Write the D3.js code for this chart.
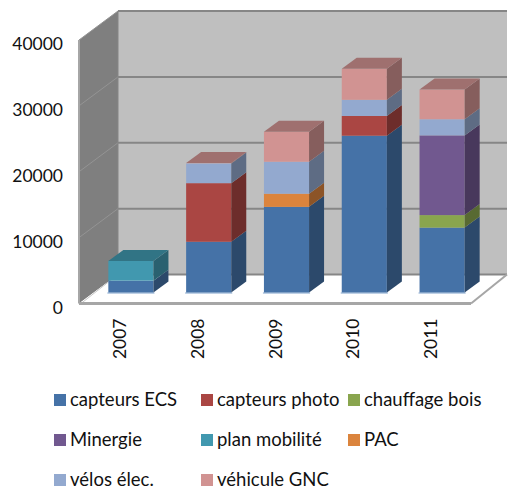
<!DOCTYPE html>
<html>
<head>
<meta charset="utf-8">
<script src="https://cdn.jsdelivr.net/npm/d3@7"></script>
<style>
  body { margin: 0; background: #fff; }
  text { font-family: Lato, "Open Sans", sans-serif; fill: #111; }
</style>
</head>
<body>
<div id="chart"></div>
<script>
// data
var years = ["2007", "2008", "2009", "2010", "2011"];
var yTicks = [0, 10000, 20000, 30000, 40000];
var seriesNames = ["capteurs ECS", "capteurs photo", "chauffage bois", "Minergie", "plan mobilité", "PAC", "vélos élec.", "véhicule GNC"];
var seriesColors = ["#4572a7", "#aa4643", "#89a54e", "#71588f", "#4198af", "#db843d", "#93a9cf", "#d19392"];
var capteursEcs = [1800, 7700, 13000, 23800, 9850];
var capteursPhoto = [0, 8900, 0, 3000, 0];
var chauffageBois = [0, 0, 0, 0, 1900];
var minergie = [0, 0, 0, 0, 12100];
var planMobilite = [3000, 0, 0, 0, 0];
var pac = [0, 0, 2000, 0, 0];
var velosElec = [0, 3000, 4850, 2450, 2450];
var vehiculeGnc = [0, 40, 4550, 4700, 4500];
var seriesValues = [capteursEcs, capteursPhoto, chauffageBois, minergie, planMobilite, pac, velosElec, vehiculeGnc];

var width = 508, height = 487;
var wallDx = 39, wallDy = -29;   // depth of the chart box
var barDx = 15, barDy = -11;     // depth of a bar
var barShift = 11, barLift = 11; // bars stand in the middle of the floor

var svg = d3.select("#chart").append("svg")
  .attr("width", width)
  .attr("height", height)
  .style("display", "block");

var x = d3.scaleBand().domain(years).range([81, 470]);
var xBar = d3.scaleBand().domain(years).range([81 + barShift, 470 + barShift])
  .paddingInner(0.42).paddingOuter(0.21);
var y = d3.scaleLinear().domain([0, 40000]).range([303.5, 40]);

function pts(list) { return list.map(function(p) { return p.join(","); }).join(" "); }

var x0 = x.range()[0] - 2, x1 = x.range()[1] + 1;
var backLeft = x0 + wallDx, backRight = 507;

// back wall
svg.append("rect")
  .attr("x", backLeft).attr("y", y(40000) + wallDy)
  .attr("width", backRight - backLeft).attr("height", y(0) - y(40000))
  .attr("fill", "#bfbfbf");

// side wall
svg.append("polygon")
  .attr("points", pts([[x0, y(40000)], [backLeft, y(40000) + wallDy], [backLeft, y(0) + wallDy], [x0, y(0)]]))
  .attr("fill", "#7f7f7f");

// floor
svg.append("polygon")
  .attr("points", pts([[x0, y(0)], [backLeft, y(0) + wallDy], [backRight, y(0) + wallDy], [x1, y(0)]]))
  .attr("fill", "#fff");

// gridlines, back wall and side wall
svg.selectAll("line.grid").data(yTicks).enter().append("line")
  .attr("class", "grid")
  .attr("x1", backLeft).attr("x2", backRight)
  .attr("y1", function(d) { return y(d) + wallDy; })
  .attr("y2", function(d) { return y(d) + wallDy; })
  .attr("stroke", "#868686").attr("stroke-width", 2);

svg.selectAll("line.sidegrid").data(yTicks.slice(1)).enter().append("line")
  .attr("class", "sidegrid")
  .attr("x1", x0).attr("x2", backLeft)
  .attr("y1", function(d) { return y(d); })
  .attr("y2", function(d) { return y(d) + wallDy; })
  .attr("stroke", "#949494").attr("stroke-width", 1);

svg.append("line")
  .attr("x1", backLeft).attr("x2", backLeft)
  .attr("y1", y(40000) + wallDy).attr("y2", y(0) + wallDy)
  .attr("stroke", "#868686").attr("stroke-width", 1);

svg.append("line")
  .attr("x1", x0).attr("x2", x0)
  .attr("y1", y(40000)).attr("y2", y(0))
  .attr("stroke", "#a6a6a6").attr("stroke-width", 2);

svg.append("line")
  .attr("x1", x0 + 2).attr("x2", backLeft)
  .attr("y1", y(0)).attr("y2", y(0) + wallDy)
  .attr("stroke", "#c8c8c8").attr("stroke-width", 1);

svg.append("line")
  .attr("x1", x1).attr("x2", backRight)
  .attr("y1", y(0)).attr("y2", y(0) + wallDy)
  .attr("stroke", "#a6a6a6").attr("stroke-width", 2);

svg.append("line")
  .attr("x1", x0).attr("x2", x1)
  .attr("y1", y(0)).attr("y2", y(0))
  .attr("stroke", "#a6a6a6").attr("stroke-width", 3);

// stacked bars
var stackRows = years.map(function(year, i) {
  var row = { year: year };
  seriesNames.forEach(function(name, s) { row[name] = seriesValues[s][i]; });
  return row;
});
var stacked = d3.stack().keys(seriesNames)(stackRows);

// pale fringe under each bar
svg.selectAll("line.fringe").data(years).enter().append("line")
  .attr("class", "fringe")
  .attr("x1", function(d) { return xBar(d) - 1; })
  .attr("x2", function(d) { return xBar(d) + xBar.bandwidth() + 1; })
  .attr("y1", y(0) - barLift + 0.5)
  .attr("y2", y(0) - barLift + 0.5)
  .attr("stroke", "#a9c0dc").attr("stroke-width", 1.5);

var layers = svg.selectAll("g.layer").data(stacked).enter().append("g")
  .attr("class", "layer");

function mult(hex, k) {
  var c = d3.rgb(hex);
  return d3.rgb(c.r * k, c.g * k, c.b * k).formatHex();
}

layers.each(function(layer, s) {
  var g = d3.select(this);
  var col = seriesColors[s];
  var segs = layer.filter(function(d) { return d[1] > d[0]; });

  // front
  g.selectAll("rect").data(segs).enter().append("rect")
    .attr("x", function(d) { return xBar(d.data.year); })
    .attr("y", function(d) { return y(d[1]) - barLift; })
    .attr("width", xBar.bandwidth())
    .attr("height", function(d) { return y(d[0]) - y(d[1]); })
    .attr("fill", col);

  // right side
  g.selectAll("polygon.side").data(segs).enter().append("polygon")
    .attr("class", "side")
    .attr("points", function(d) {
      var xr = xBar(d.data.year) + xBar.bandwidth();
      var t = y(d[1]) - barLift, b = y(d[0]) - barLift;
      return pts([[xr, t], [xr + barDx, t + barDy], [xr + barDx, b + barDy], [xr, b]]);
    })
    .attr("fill", mult(col, 0.64));

  // top, only the highest segment of each bar shows it
  g.selectAll("polygon.top").data(segs.filter(function(d) {
      return Math.abs(d[1] - d3.sum(seriesValues, function(v) { return v[years.indexOf(d.data.year)]; })) < 1;
    })).enter().append("polygon")
    .attr("class", "top")
    .attr("points", function(d) {
      var xl = xBar(d.data.year), xr = xl + xBar.bandwidth();
      var t = y(d[1]) - barLift;
      return pts([[xl, t], [xl + barDx, t + barDy], [xr + barDx, t + barDy], [xr, t]]);
    })
    .attr("fill", mult(col, 0.76));
});

// axes
var yAxis = svg.append("g")
  .attr("transform", "translate(" + x0 + ",0)")
  .call(d3.axisLeft(y).tickValues(yTicks).tickFormat(d3.format("d")).tickSize(0).tickPadding(16));
yAxis.select(".domain").remove();
yAxis.selectAll("text")
  .style("font-size", "17.5px")
  .attr("dy", "0.57em");

var xAxis = svg.append("g")
  .attr("transform", "translate(0," + y(0) + ")")
  .call(d3.axisBottom(x).tickSize(0));
xAxis.select(".domain").remove();
xAxis.selectAll("text")
  .style("font-size", "17.5px")
  .style("text-anchor", "end")
  .attr("dy", null)
  .attr("y", null)
  .attr("transform", "translate(6,15)rotate(-90)");

// legend
var legendCols = d3.scalePoint().domain([0, 1, 2]).range([54, 348]);
var legendRows = d3.scalePoint().domain([0, 1, 2]).range([400, 480]);

var legend = svg.selectAll("g.legend").data(seriesNames).enter().append("g")
  .attr("class", "legend")
  .attr("transform", function(d, i) {
    return "translate(" + legendCols(i % 3) + "," + legendRows(Math.floor(i / 3)) + ")";
  });
legend.append("rect")
  .attr("y", -6).attr("width", 12).attr("height", 12)
  .attr("fill", function(d, i) { return seriesColors[i]; });
legend.append("text")
  .attr("x", 16).attr("dy", "0.33em")
  .style("font-size", "18.5px")
  .text(function(d) { return d; });
</script>
</body>
</html>
